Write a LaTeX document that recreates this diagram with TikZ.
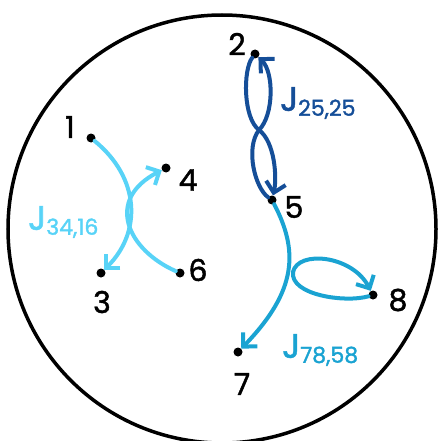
\documentclass[tikz,border=0pt]{standalone}
\usepackage{fontspec}
\setmainfont{Poppins}
\usetikzlibrary{arrows.meta}
\definecolor{cyanl}{HTML}{58D3F7}
\definecolor{bluem}{HTML}{1AA3D2}
\definecolor{blued}{HTML}{154E98}
\tikzset{
  pt/.style={circle,fill=black,inner sep=0pt,minimum size=9pt},
  num/.style={font=\fontsize{30}{30}\selectfont\addfontfeature{FakeBold=1.5},text=black,inner sep=0pt},
  edge/.style={line width=4pt,line cap=round,-{Straight Barb[length=10pt,width=20pt,line width=4pt]}},
  jlab/.style={inner sep=0pt,anchor=west}
}
\newcommand{\jlabel}[1]{{\fontsize{34}{34}\selectfont\addfontfeature{FakeBold=1.5}J}\raisebox{-5pt}{\fontsize{22}{22}\selectfont\addfontfeature{FakeBold=1.5}#1}}
\begin{document}
\begin{tikzpicture}[x=1pt,y=-1pt]
\useasboundingbox (0,0) rectangle (444,441);
\draw[line width=3.5pt] (222,229) circle[radius=214];
% points
\node[pt] (p1) at (91,138) {};
\node[pt] (p4) at (166,168) {};
\node[pt] (p3) at (101,273) {};
\node[pt] (p6) at (180,273) {};
\node[pt] (p2) at (255,54) {};
\node[pt] (p5) at (272,200) {};
\node[pt] (p8) at (373,295) {};
\node[pt] (p7) at (238,352) {};
% labels
\node[num] (l1) at (70,127) {1};
\node[num] (l4) at (188,180) {4};
\node[num] (l3) at (102,302) {3};
\node[num] (l6) at (198,270) {6};
\node[num] (l2) at (237,44) {2};
\node[num] (l5) at (294,207) {5};
\node[num] (l8) at (398,300) {8};
\node[num] (l7) at (242,384) {7};
% light cyan
\draw[edge,cyanl] (p1) .. controls (140,178) and (142,232) .. (p3);
\draw[edge,cyanl] (p6) .. controls (128,250) and (104,200) .. (p4);
\node[jlab,text=cyanl] (j1) at (28,222) {\jlabel{34,16}};
% dark blue figure eight
\coordinate (pinch) at (259,130);
\draw[edge,blued] (p2) .. controls (243,70) and (243,118) .. (pinch) .. controls (275,142) and (277,178) .. (p5);
\draw[edge,blued] (p5) .. controls (255,188) and (245,148) .. (pinch) .. controls (274,115) and (274,72) .. (p2);
\node[jlab,text=blued] (j2) at (280,103) {\jlabel{25,25}};
% medium blue
\draw[edge,bluem] (p5) .. controls (298,250) and (298,290) .. (p7);
\coordinate (lp) at (293,272);
\draw[edge,bluem] (lp) .. controls (298,250) and (352,255) .. (p8);
\draw[line width=4pt,line cap=round,bluem] (p8) .. controls (345,303) and (290,295) .. (lp);
\node[jlab,text=bluem] (j3) at (282,350) {\jlabel{78,58}};
\end{tikzpicture}
\end{document}
